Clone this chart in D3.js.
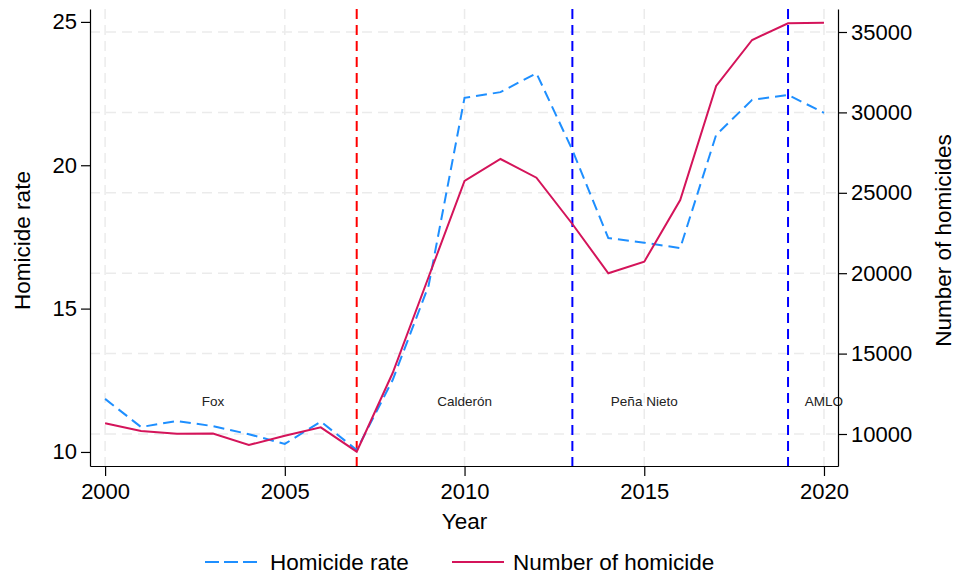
<!DOCTYPE html>
<html>
<head>
<meta charset="utf-8">
<script src="https://cdn.jsdelivr.net/npm/d3@7/dist/d3.min.js"></script>
<style>
  body { margin: 0; background: #fff; }
  svg { display: block; font-family: "Liberation Sans", Arial, sans-serif; }
</style>
</head>
<body>
<svg id="chart" width="957" height="576"></svg>
<script>
const years = d3.range(2000, 2021);
const homicideRate = [11.85, 10.87, 11.08, 10.9, 10.62, 10.28, 11.06, 10.07, 12.51, 15.8,
  22.35, 22.55, 23.21, 20.53, 17.46, 17.3, 17.11, 21.06, 22.28, 22.45, 21.83];
const homicides = [10665, 10187, 10020, 10030, 9316, 9894, 10415, 8900, 13793, 19764,
  25734, 27102, 25940, 23060, 19994, 20716, 24552, 31642, 34502, 35540, 35580];
const rateTicks = [10, 15, 20, 25];
const countTicks = [10000, 15000, 20000, 25000, 30000, 35000];
const yearTicks = [2000, 2005, 2010, 2015, 2020];
const terms = [
  { start: 2007, color: "#ff0000" },
  { start: 2013, color: "#0000ff" },
  { start: 2019, color: "#0000ff" }
];
const termLabels = [
  { year: 2003, name: "Fox" },
  { year: 2010, name: "Calderón" },
  { year: 2015, name: "Peña Nieto" },
  { year: 2020, name: "AMLO" }
];
const labelLevel = 12000;

const svg = d3.select("#chart");
const pL = 90, pR = 838, pT = 9, pB = 466;

const x = d3.scaleLinear().domain([1999.58, 2020.39]).range([pL, pR]);
const yL = d3.scaleLinear().domain([9.51, 25.45]).range([pB, pT]);
const yR = d3.scaleLinear().domain([8010, 36430]).range([pB, pT]);

const rateColor = "#1e8fff";
const countColor = "#d4145a";

// grid
const grid = svg.append("g").attr("stroke", "#ebebeb").attr("stroke-width", 1.5)
  .attr("stroke-dasharray", "10,6");
grid.selectAll("line.v").data(yearTicks).join("line").attr("class", "v")
  .attr("x1", d => x(d)).attr("x2", d => x(d)).attr("y1", pT).attr("y2", pB);
grid.selectAll("line.h").data(countTicks).join("line").attr("class", "h")
  .attr("x1", pL).attr("x2", pR).attr("y1", d => yR(d)).attr("y2", d => yR(d));

// term start lines
svg.append("g").selectAll("line").data(terms).join("line")
  .attr("x1", d => x(d.start)).attr("x2", d => x(d.start))
  .attr("y1", pT).attr("y2", pB)
  .attr("stroke", d => d.color).attr("stroke-width", 2).attr("stroke-dasharray", "10,6");

// series
const rateLine = d3.line().x((d, i) => x(years[i])).y(d => yL(d));
const countLine = d3.line().x((d, i) => x(years[i])).y(d => yR(d));

svg.append("path").datum(homicideRate).attr("d", rateLine)
  .attr("fill", "none").attr("stroke", rateColor).attr("stroke-width", 2)
  .attr("stroke-dasharray", "11,6");
svg.append("path").datum(homicides).attr("d", countLine)
  .attr("fill", "none").attr("stroke", countColor).attr("stroke-width", 2);

// president labels
svg.append("g").selectAll("text").data(termLabels).join("text")
  .attr("x", d => x(d.year)).attr("y", yR(labelLevel))
  .attr("text-anchor", "middle").attr("dominant-baseline", "central")
  .attr("font-size", 13.5).attr("fill", "#222")
  .text(d => d.name);

// axes
function styleAxis(g) {
  g.select(".domain").attr("stroke", "#000").attr("stroke-width", 1.2);
  g.selectAll(".tick line").attr("stroke", "#000").attr("stroke-width", 1.2);
  g.selectAll(".tick text").attr("font-size", 22).attr("fill", "#000")
    .attr("font-family", "'Liberation Sans', Arial, sans-serif");
}

svg.append("g").attr("transform", `translate(${pL},0)`)
  .call(d3.axisLeft(yL).tickValues(rateTicks).tickSize(9).tickPadding(4).tickSizeOuter(0))
  .call(styleAxis);
svg.append("g").attr("transform", `translate(${pR},0)`)
  .call(d3.axisRight(yR).tickValues(countTicks).tickFormat(d3.format("d")).tickSize(9).tickPadding(4).tickSizeOuter(0))
  .call(styleAxis);
svg.append("g").attr("transform", `translate(0,${pB})`)
  .call(d3.axisBottom(x).tickValues(yearTicks).tickFormat(d3.format("d")).tickSize(10).tickPadding(7).tickSizeOuter(0))
  .call(styleAxis);

// axis titles
svg.append("text").attr("transform", `translate(30,${(pT + pB) / 2 + 3}) rotate(-90)`)
  .attr("text-anchor", "middle").attr("font-size", 22.5).text("Homicide rate");
svg.append("text").attr("transform", `translate(951,${(pT + pB) / 2 + 3}) rotate(-90)`)
  .attr("text-anchor", "middle").attr("font-size", 22.5).text("Number of homicides");
svg.append("text").attr("x", x(2010)).attr("y", 529)
  .attr("text-anchor", "middle").attr("font-size", 22.5).text("Year");

// legend
const legend = [
  { label: "Homicide rate", color: rateColor, dash: "14,5", x0: 205, x1: 257, tx: 270 },
  { label: "Number of homicide", color: countColor, dash: null, x0: 452, x1: 504, tx: 513 }
];
const lg = svg.append("g");
lg.selectAll("line").data(legend).join("line")
  .attr("x1", d => d.x0).attr("x2", d => d.x1).attr("y1", 562).attr("y2", 562)
  .attr("stroke", d => d.color).attr("stroke-width", 2)
  .attr("stroke-dasharray", d => d.dash);
lg.selectAll("text").data(legend).join("text")
  .attr("x", d => d.tx).attr("y", 570).attr("font-size", 22.5)
  .text(d => d.label);
</script>
</body>
</html>
